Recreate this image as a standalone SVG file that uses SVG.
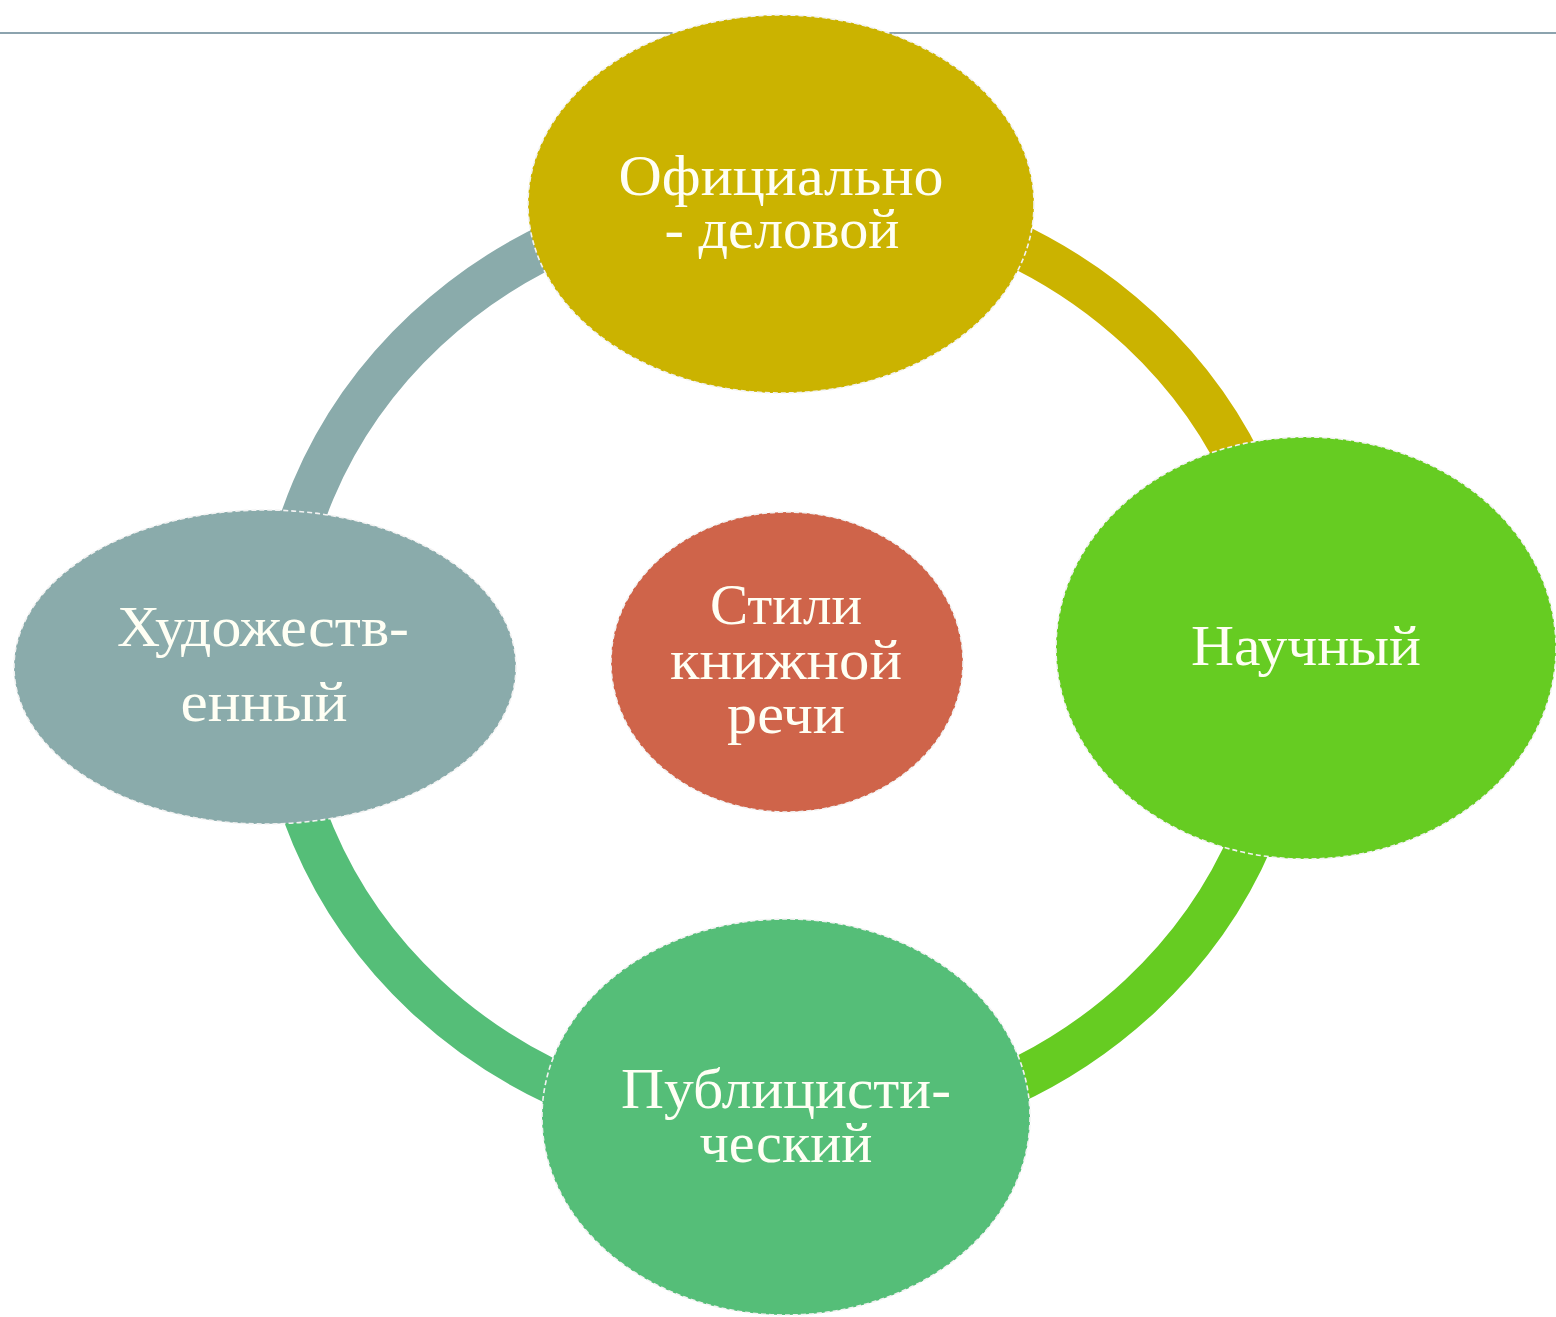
<svg xmlns="http://www.w3.org/2000/svg" width="1556" height="1317" viewBox="0 0 1556 1317">
<style>
.node{stroke:#f2f2f2;stroke-width:1.6;stroke-dasharray:5 3}
.lbl{font-family:"Liberation Serif","Times New Roman",serif;font-size:58px;fill:#fffff4;text-anchor:middle}
.arc{fill:none;stroke-width:44}
</style>
<rect width="1556" height="1317" fill="#ffffff"/>
<line x1="0" y1="33" x2="1556" y2="33" stroke="#8ca3ae" stroke-width="2.2"/>
<g id="connectors">
<path class="arc" stroke="#8aabab" d="M 278 663 A 505 471 0 0 1 783 192"/>
<path class="arc" stroke="#cbb300" d="M 783 192 A 505 471 0 0 1 1288 663"/>
<path class="arc" stroke="#66cc22" d="M 1288 663 A 505 471 0 0 1 783 1134"/>
<path class="arc" stroke="#55be78" d="M 783 1134 A 505 471 0 0 1 278 663"/>
</g>
<g id="node-top">
<ellipse class="node" cx="781" cy="204" rx="253" ry="189" fill="#cbb300"/>
<text class="lbl" x="781" y="195" textLength="325" lengthAdjust="spacingAndGlyphs">Официально</text>
<text class="lbl" x="782" y="248" textLength="235" lengthAdjust="spacingAndGlyphs">- деловой</text>
</g>
<g id="node-right">
<ellipse class="node" cx="1306" cy="648" rx="250" ry="211" fill="#66cc22"/>
<text class="lbl" x="1306" y="665" textLength="230" lengthAdjust="spacingAndGlyphs">Научный</text>
</g>
<g id="node-bottom">
<ellipse class="node" cx="786" cy="1117" rx="244" ry="198" fill="#55be78"/>
<text class="lbl" x="786" y="1108" textLength="330" lengthAdjust="spacingAndGlyphs">Публицисти-</text>
<text class="lbl" x="786" y="1162" textLength="173" lengthAdjust="spacingAndGlyphs">ческий</text>
</g>
<g id="node-left">
<ellipse class="node" cx="265" cy="667" rx="251" ry="157" fill="#8aabab"/>
<text class="lbl" x="263" y="646" textLength="292" lengthAdjust="spacingAndGlyphs">Художеств-</text>
<text class="lbl" x="264" y="721" textLength="167" lengthAdjust="spacingAndGlyphs">енный</text>
</g>
<g id="node-center">
<ellipse class="node" cx="787" cy="662" rx="176" ry="150" fill="#cf644a"/>
<text class="lbl" x="786" y="624" textLength="152" lengthAdjust="spacingAndGlyphs">Стили</text>
<text class="lbl" x="786" y="679" textLength="232" lengthAdjust="spacingAndGlyphs">книжной</text>
<text class="lbl" x="786" y="733" textLength="118" lengthAdjust="spacingAndGlyphs">речи</text>
</g>
</svg>
